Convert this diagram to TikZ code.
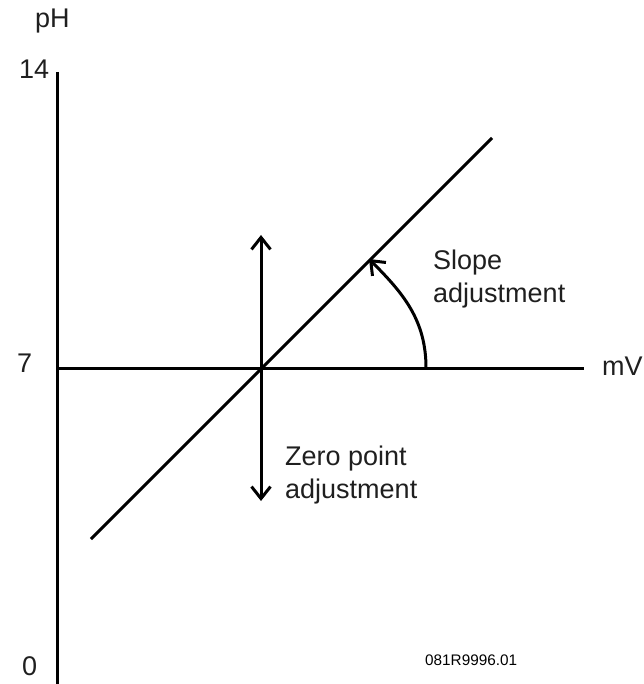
\documentclass[tikz,border=0pt]{standalone}
\usepackage{fontspec}
\setmainfont{Liberation Sans}
\usetikzlibrary{arrows.meta}
\begin{document}
\begin{tikzpicture}[x=1pt,y=-1pt,
  axis/.style={line width=3pt},
  ln/.style={line width=3pt},
  barb/.tip={Straight Barb[length=12pt,width=19pt]},
  lbl/.style={inner sep=0pt,anchor=base west,font=\fontsize{27}{33}\selectfont,text=black!88},
  ml/.style={inner sep=0pt,anchor=north west,align=left,font=\fontsize{27}{33}\selectfont,text=black!88}]
\useasboundingbox (0,0) rectangle (643,684);
% axes
\coordinate (ytop) at (57.5,72);
\coordinate (ybot) at (57.5,684);
\coordinate (xl) at (57.5,368.5);
\coordinate (xr) at (584,368.5);
\draw[axis] (ytop) -- (ybot);
\draw[axis] (xl) -- (xr);
% diagonal
\coordinate (dA) at (91,539);
\coordinate (dB) at (492,138);
\draw[ln] (dA) -- (dB);
% zero point double arrow
\coordinate (zT) at (261,235);
\coordinate (zB) at (261,501);
\draw[ln,barb-barb] (zT) -- (zB);
% slope arc
\coordinate (sA) at (426,368);
\coordinate (sB) at (369,259);
\draw[ln,-barb] (sA) to[out=90,in=-45] (sB);
% labels
\node[lbl] (ph) at (35,28) {pH};
\node[lbl] (t14) at (19,79) {14};
\node[lbl] (t7) at (17,372) {7};
\node[lbl] (t0) at (22,675) {0};
\node[lbl] (mv) at (602,375) {mV};
\node[ml] (slope) at (433,250) {Slope\\adjustment};
\node[ml] (zero) at (285,446) {Zero point\\adjustment};
\node[inner sep=0pt,anchor=base west,font=\fontsize{15.3}{18}\selectfont] (code) at (425,665) {081R9996.01};
\end{tikzpicture}
\end{document}
